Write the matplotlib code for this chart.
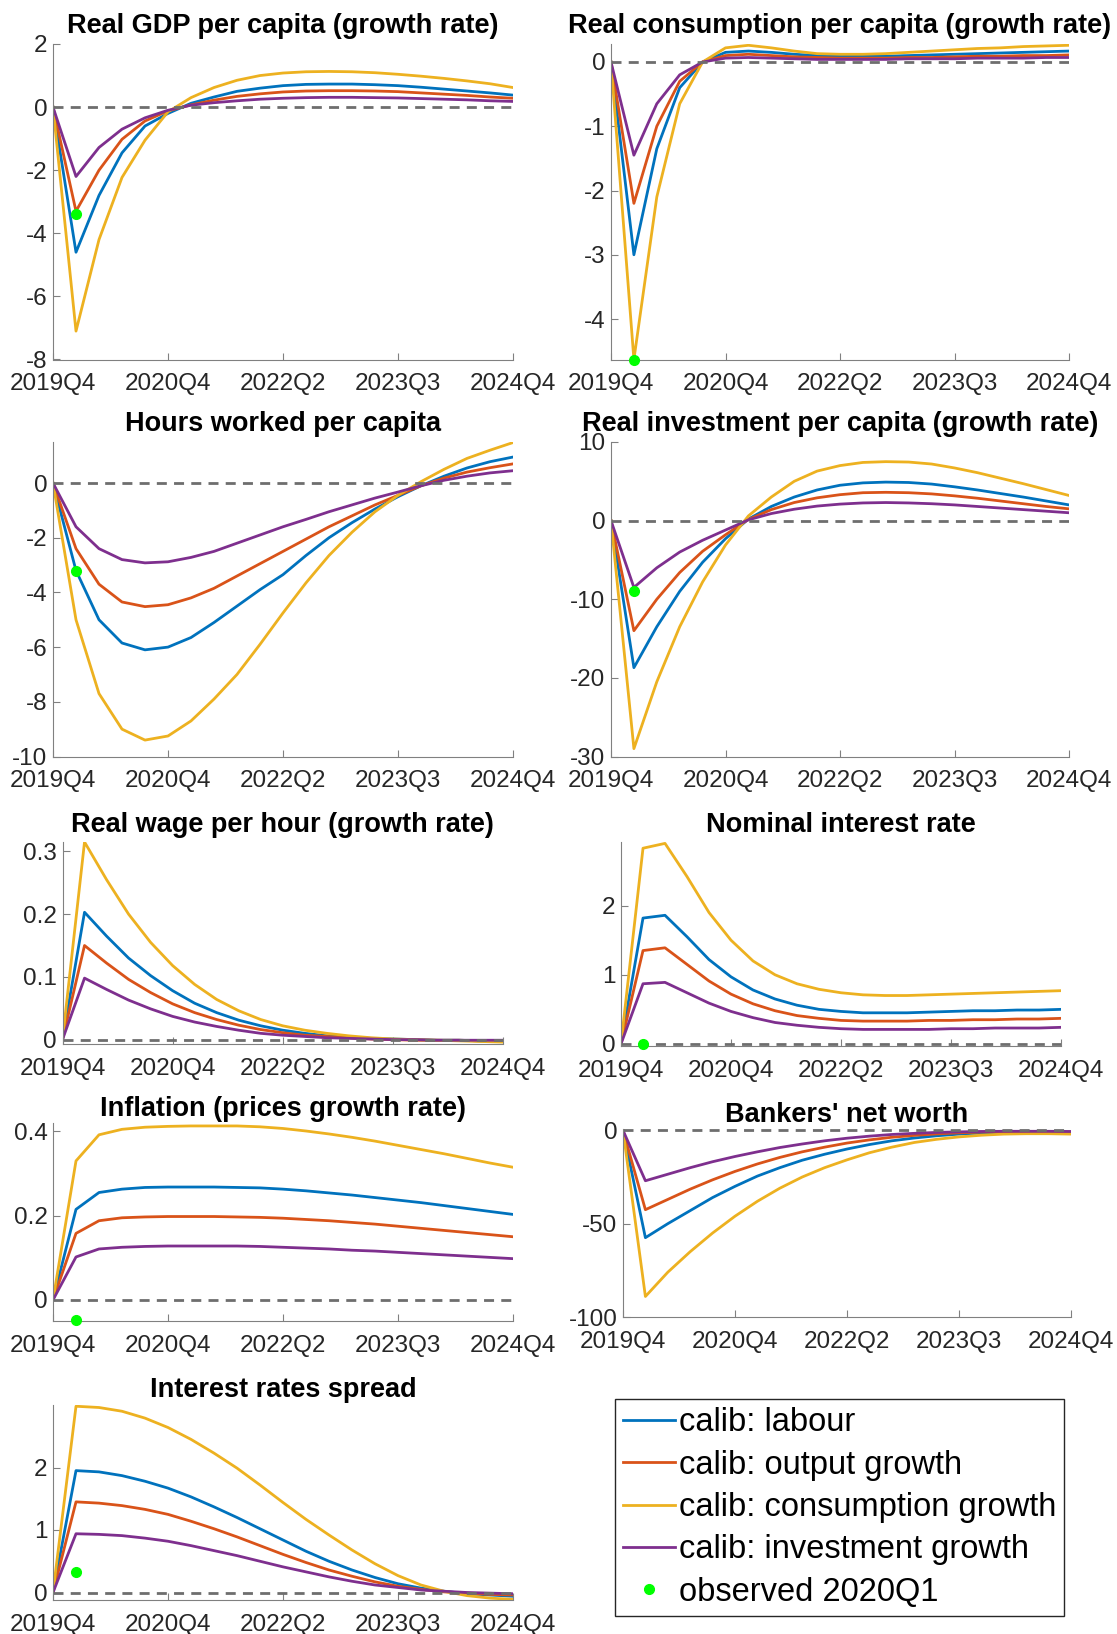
import numpy as np
import matplotlib
matplotlib.use("Agg")
import matplotlib.pyplot as plt
from matplotlib.lines import Line2D

plt.rcParams['font.family'] = ['Liberation Sans', 'DejaVu Sans']
plt.rcParams['axes.unicode_minus'] = False

# ------------------------------------------------------------
# data (21 quarters, 2019Q4 .. 2024Q4)
# ------------------------------------------------------------
quarters = np.arange(21)
tick_pos = [0, 5, 10, 15, 20]
tick_labels = ['2019Q4', '2020Q4', '2022Q2', '2023Q3', '2024Q4']
series_names = ['calib: labour', 'calib: output growth',
                'calib: consumption growth', 'calib: investment growth']
obs_name = 'observed 2020Q1'

gdp_labour = [0, -4.6, -2.8, -1.45, -0.6, -0.2, 0.12, 0.32, 0.5, 0.6, 0.68, 0.72, 0.73, 0.73, 0.71, 0.68, 0.63, 0.57, 0.51, 0.45, 0.38]
gdp_output = [0, -3.3, -2.0, -1.02, -0.44, -0.12, 0.07, 0.22, 0.34, 0.42, 0.48, 0.51, 0.52, 0.52, 0.51, 0.49, 0.45, 0.41, 0.37, 0.32, 0.28]
gdp_cons = [0, -7.1, -4.2, -2.23, -1.05, -0.15, 0.3, 0.62, 0.85, 1.0, 1.08, 1.12, 1.13, 1.12, 1.09, 1.04, 0.98, 0.91, 0.83, 0.74, 0.62]
gdp_inv = [0, -2.2, -1.28, -0.7, -0.34, -0.1, 0.06, 0.14, 0.2, 0.25, 0.28, 0.3, 0.31, 0.31, 0.3, 0.29, 0.27, 0.25, 0.23, 0.2, 0.18]
gdp_obs = -3.4

cons_labour = [0, -3.0, -1.35, -0.4, 0.0, 0.15, 0.17, 0.15, 0.12, 0.1, 0.09, 0.09, 0.09, 0.1, 0.11, 0.12, 0.13, 0.14, 0.15, 0.16, 0.17]
cons_output = [0, -2.2, -1.0, -0.3, 0.0, 0.1, 0.12, 0.1, 0.08, 0.07, 0.06, 0.06, 0.06, 0.07, 0.07, 0.08, 0.09, 0.09, 0.1, 0.1, 0.11]
cons_cons = [0, -4.63, -2.1, -0.65, 0.0, 0.22, 0.26, 0.22, 0.17, 0.13, 0.12, 0.12, 0.13, 0.15, 0.17, 0.19, 0.21, 0.22, 0.24, 0.25, 0.26]
cons_inv = [0, -1.45, -0.65, -0.2, 0.0, 0.06, 0.07, 0.06, 0.05, 0.04, 0.04, 0.04, 0.04, 0.05, 0.05, 0.05, 0.06, 0.06, 0.06, 0.07, 0.07]
cons_obs = -4.63

hours_labour = [0, -3.2, -5.0, -5.85, -6.1, -6.0, -5.65, -5.1, -4.5, -3.9, -3.35, -2.65, -2.0, -1.45, -0.95, -0.5, -0.1, 0.25, 0.55, 0.78, 0.95]
hours_output = [0, -2.4, -3.7, -4.35, -4.52, -4.45, -4.2, -3.85, -3.4, -2.95, -2.5, -2.05, -1.6, -1.2, -0.8, -0.45, -0.1, 0.18, 0.4, 0.56, 0.7]
hours_cons = [0, -5.0, -7.7, -9.0, -9.4, -9.25, -8.7, -7.9, -7.0, -5.9, -4.75, -3.65, -2.65, -1.8, -1.05, -0.45, 0.05, 0.5, 0.9, 1.2, 1.48]
hours_inv = [0, -1.6, -2.4, -2.8, -2.92, -2.88, -2.72, -2.5, -2.2, -1.9, -1.6, -1.33, -1.05, -0.8, -0.55, -0.33, -0.1, 0.1, 0.25, 0.37, 0.45]
hours_obs = -3.2

inv_labour = [0, -18.7, -13.5, -9.0, -5.3, -2.3, 0.2, 1.8, 3.0, 3.9, 4.5, 4.8, 4.9, 4.85, 4.65, 4.3, 3.9, 3.45, 3.0, 2.5, 2.0]
inv_output = [0, -14.0, -10.0, -6.6, -3.9, -1.8, 0.15, 1.4, 2.3, 2.9, 3.3, 3.55, 3.6, 3.55, 3.4, 3.15, 2.85, 2.5, 2.15, 1.8, 1.5]
inv_cons = [0, -29.0, -20.5, -13.5, -7.8, -3.1, 0.6, 3.0, 5.0, 6.3, 7.0, 7.4, 7.5, 7.45, 7.2, 6.7, 6.1, 5.4, 4.7, 3.95, 3.2]
inv_inv = [0, -8.5, -6.0, -4.0, -2.5, -1.2, 0.1, 0.9, 1.45, 1.85, 2.1, 2.25, 2.3, 2.25, 2.15, 2.0, 1.8, 1.6, 1.4, 1.2, 1.0]
inv_obs = -9.0

wage_labour = [0, 0.203, 0.165, 0.13, 0.102, 0.078, 0.058, 0.043, 0.031, 0.022, 0.015, 0.01, 0.006, 0.004, 0.002, 0.001, 0.0, -0.001, -0.001, -0.002, -0.002]
wage_output = [0, 0.15, 0.122, 0.096, 0.075, 0.057, 0.043, 0.032, 0.023, 0.016, 0.011, 0.007, 0.005, 0.003, 0.001, 0.0, -0.001, -0.001, -0.001, -0.002, -0.002]
wage_cons = [0, 0.315, 0.255, 0.2, 0.155, 0.118, 0.088, 0.064, 0.046, 0.032, 0.022, 0.015, 0.01, 0.006, 0.003, 0.001, 0.0, -0.001, -0.002, -0.003, -0.004]
wage_inv = [0, 0.098, 0.08, 0.063, 0.049, 0.037, 0.028, 0.021, 0.015, 0.01, 0.007, 0.005, 0.003, 0.002, 0.001, 0.0, 0.0, -0.001, -0.001, -0.001, -0.001]

rate_labour = [0, 1.82, 1.86, 1.55, 1.22, 0.97, 0.78, 0.65, 0.56, 0.5, 0.47, 0.45, 0.45, 0.45, 0.46, 0.47, 0.48, 0.48, 0.49, 0.49, 0.5]
rate_output = [0, 1.35, 1.39, 1.15, 0.91, 0.72, 0.58, 0.48, 0.41, 0.37, 0.34, 0.33, 0.33, 0.33, 0.34, 0.34, 0.35, 0.35, 0.36, 0.36, 0.37]
rate_cons = [0, 2.83, 2.9, 2.42, 1.9, 1.5, 1.2, 1.0, 0.87, 0.79, 0.74, 0.71, 0.7, 0.7, 0.71, 0.72, 0.73, 0.74, 0.75, 0.76, 0.77]
rate_inv = [0, 0.87, 0.89, 0.74, 0.59, 0.47, 0.38, 0.31, 0.27, 0.24, 0.22, 0.21, 0.21, 0.21, 0.21, 0.22, 0.22, 0.23, 0.23, 0.23, 0.24]
rate_obs = 0.0

infl_labour = [0, 0.215, 0.255, 0.263, 0.267, 0.268, 0.268, 0.268, 0.267, 0.266, 0.263, 0.259, 0.254, 0.249, 0.243, 0.237, 0.231, 0.224, 0.217, 0.21, 0.203]
infl_output = [0, 0.158, 0.188, 0.195, 0.197, 0.198, 0.198, 0.198, 0.197, 0.196, 0.194, 0.191, 0.188, 0.184, 0.18, 0.175, 0.17, 0.165, 0.16, 0.155, 0.15]
infl_cons = [0, 0.33, 0.392, 0.405, 0.41, 0.412, 0.413, 0.413, 0.413, 0.411, 0.407, 0.401, 0.394, 0.386, 0.377, 0.367, 0.357, 0.347, 0.336, 0.325, 0.315]
infl_inv = [0, 0.102, 0.121, 0.125, 0.127, 0.128, 0.128, 0.128, 0.128, 0.127, 0.125, 0.123, 0.121, 0.118, 0.116, 0.113, 0.11, 0.107, 0.104, 0.101, 0.098]
infl_obs = -0.048

nw_labour = [0, -57.5, -50, -43, -36, -30, -24.5, -20, -16, -12.8, -10, -7.6, -5.6, -4.1, -2.9, -2.0, -1.4, -1.0, -0.9, -0.9, -1.0]
nw_output = [0, -42.5, -37, -31.5, -26.5, -22, -18, -14.5, -11.5, -9, -6.8, -5.1, -3.7, -2.7, -1.9, -1.3, -0.9, -0.7, -0.7, -0.8, -0.9]
nw_cons = [0, -89, -76, -65, -55, -46, -38, -31, -25, -20, -15.8, -12, -9, -6.5, -4.8, -3.5, -2.6, -2.0, -1.8, -1.8, -2.0]
nw_inv = [0, -27, -23.5, -20, -16.8, -14, -11.5, -9.2, -7.3, -5.6, -4.2, -3.1, -2.2, -1.6, -1.1, -0.8, -0.6, -0.5, -0.5, -0.5, -0.6]

spread_labour = [0, 1.95, 1.93, 1.87, 1.78, 1.67, 1.53, 1.37, 1.2, 1.02, 0.84, 0.66, 0.5, 0.36, 0.24, 0.14, 0.07, 0.02, -0.02, -0.04, -0.06]
spread_output = [0, 1.45, 1.43, 1.39, 1.33, 1.25, 1.14, 1.02, 0.89, 0.75, 0.61, 0.48, 0.36, 0.26, 0.17, 0.1, 0.05, 0.01, -0.01, -0.03, -0.04]
spread_cons = [0, 2.98, 2.96, 2.9, 2.79, 2.64, 2.45, 2.23, 1.99, 1.72, 1.44, 1.17, 0.92, 0.68, 0.46, 0.27, 0.12, 0.02, -0.05, -0.09, -0.11]
spread_inv = [0, 0.94, 0.93, 0.91, 0.87, 0.82, 0.75, 0.67, 0.59, 0.5, 0.41, 0.33, 0.25, 0.18, 0.12, 0.08, 0.04, 0.02, 0.0, -0.01, -0.02]
spread_obs = 0.33

# ------------------------------------------------------------
# figure layout (pixel boxes: x0, x1, y0, y1)
# ------------------------------------------------------------
W, H = 1117, 1634
fig = plt.figure(figsize=(W / 100, H / 100), dpi=100)

colors = ['#0072BD', '#D95319', '#EDB120', '#7E2F8E']


def rect(x0, x1, y0, y1):
    return [x0 / W, 1 - y1 / H, (x1 - x0) / W, (y1 - y0) / H]


panels = [
    ('Real GDP per capita (growth rate)', (53, 513, 44, 359.5),
     [gdp_labour, gdp_output, gdp_cons, gdp_inv], gdp_obs, (-8, 2), [-8, -6, -4, -2, 0, 2]),
    ('Real consumption per capita (growth rate)', (611, 1069, 44, 359.5),
     [cons_labour, cons_output, cons_cons, cons_inv], cons_obs, (-4.63, 0.28), [-4, -3, -2, -1, 0]),
    ('Hours worked per capita', (53, 513, 442, 756.5),
     [hours_labour, hours_output, hours_cons, hours_inv], hours_obs, (-10, 1.5), [-10, -8, -6, -4, -2, 0]),
    ('Real investment per capita (growth rate)', (611, 1069, 442, 756.5),
     [inv_labour, inv_output, inv_cons, inv_inv], inv_obs, (-30, 10), [-30, -20, -10, 0, 10]),
    ('Real wage per hour (growth rate)', (62.5, 503, 842, 1044),
     [wage_labour, wage_output, wage_cons, wage_inv], None, (-0.007, 0.315), [0, 0.1, 0.2, 0.3]),
    ('Nominal interest rate', (621, 1061, 842, 1046),
     [rate_labour, rate_output, rate_cons, rate_inv], rate_obs, (-0.03, 2.92), [0, 1, 2]),
    ('Inflation (prices growth rate)', (53, 513, 1123, 1321),
     [infl_labour, infl_output, infl_cons, infl_inv], infl_obs, (-0.05, 0.42), [0, 0.2, 0.4]),
    ("Bankers' net worth", (623, 1071, 1128.5, 1317),
     [nw_labour, nw_output, nw_cons, nw_inv], None, (-100, 1), [-100, -50, 0]),
    ('Interest rates spread', (53, 513, 1405, 1600),
     [spread_labour, spread_output, spread_cons, spread_inv], spread_obs, (-0.12, 3.0), [0, 1, 2]),
]
title_pads = [8, 8, 8, 8, 7, 7, 5, 5, 6]

axis_col = '#262626'
handles = []
for (title, box, series, obs, ylim, yticks), tpad in zip(panels, title_pads):
    ax = fig.add_axes(rect(*box))
    lines = []
    for vals, c in zip(series, colors):
        ln, = ax.plot(quarters, vals, color=c, lw=2)
        lines.append(ln)
    ax.axhline(0, color='#6e6e6e', lw=2, ls=(0, (3.6, 2.6)))
    if obs is not None:
        ax.plot([1], [obs], 'o', color='#00FF00', ms=7, clip_on=False, zorder=5)
    ax.set_xlim(0, 20)
    ax.set_ylim(*ylim)
    ax.set_xticks(tick_pos)
    ax.set_xticklabels(tick_labels)
    ax.set_yticks(yticks)
    ax.set_yticklabels([f'{v:g}' for v in yticks])
    ax.set_title(title, fontsize=19.5, fontweight='bold', pad=tpad)
    for s in ['top', 'right']:
        ax.spines[s].set_visible(False)
    for s in ['left', 'bottom']:
        ax.spines[s].set_color('#808080')
        ax.spines[s].set_linewidth(0.8)
    ax.tick_params(direction='in', length=5, width=0.8, color='#808080',
                   labelsize=17.5, labelcolor=axis_col)
    ax.tick_params(axis='x', pad=10)
    ax.tick_params(axis='y', pad=4)
    if not handles:
        handles = lines

# legend
obs_handle = Line2D([], [], marker='o', ls='none', color='#00FF00', ms=7)
leg = fig.legend(handles + [obs_handle], series_names + [obs_name],
                 loc='upper left', bbox_to_anchor=(615 / W, 1 - 1399 / H),
                 fontsize=23.5, frameon=True, fancybox=False, edgecolor=axis_col,
                 framealpha=1, borderpad=0.25, handlelength=1.6, handletextpad=0.1,
                 labelspacing=0.35, borderaxespad=0)
leg.get_frame().set_linewidth(1.0)

fig.savefig('out.png', dpi=100)
